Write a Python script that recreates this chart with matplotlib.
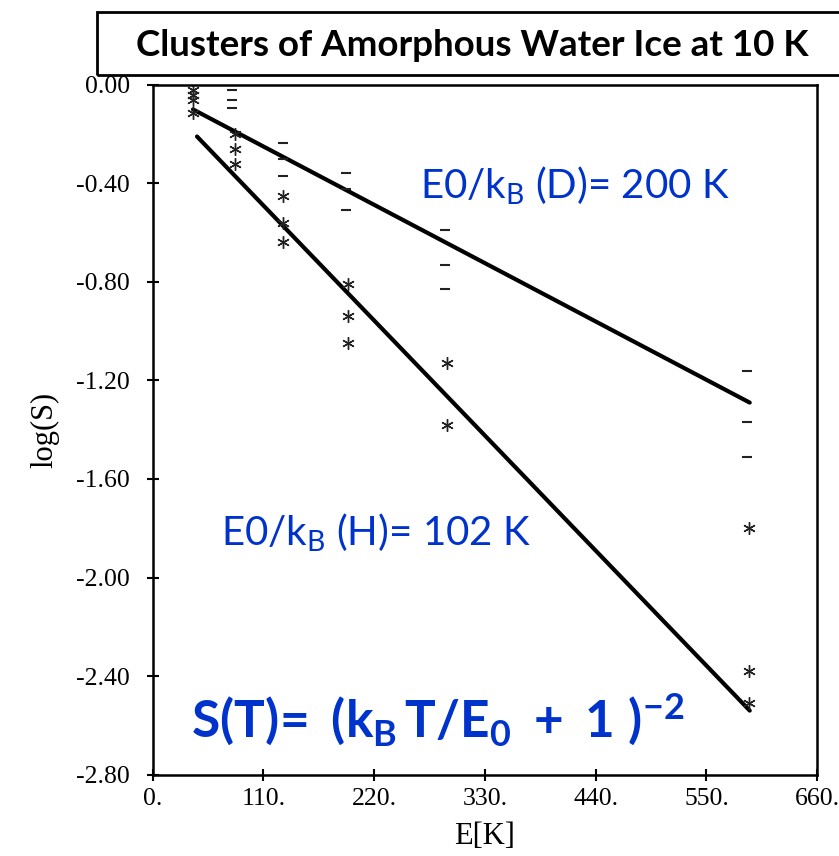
import matplotlib
matplotlib.use("Agg")
import matplotlib.pyplot as plt
from matplotlib.patches import Rectangle
from matplotlib.font_manager import FontProperties

# ---- data ----
E_dash = [79, 79, 79, 129, 129, 129, 192, 192, 192, 290, 290, 290, 590, 590, 590]
logS_dash = [-0.02, -0.06, -0.093, -0.235, -0.30, -0.37, -0.36, -0.425, -0.51,
             -0.59, -0.73, -0.83, -1.16, -1.37, -1.51]
E_star = [40, 40, 40, 40, 82, 82, 82, 129, 129, 129, 194, 194, 194, 292, 292, 592, 592, 592]
logS_star = [-0.02, -0.04, -0.06, -0.115, -0.20, -0.26, -0.32, -0.45, -0.56, -0.64,
             -0.81, -0.94, -1.05, -1.13, -1.38, -1.80, -2.38, -2.51]
E_fitD = [40, 593]
logS_fitD = [-0.10, -1.29]
E_fitH = [44, 593]
logS_fitH = [-0.21, -2.54]

xticks = [0, 110, 220, 330, 440, 550, 660]
xticklabels = ["0.", "110.", "220.", "330.", "440.", "550.", "660."]
yticks = [0.0, -0.4, -0.8, -1.2, -1.6, -2.0, -2.4, -2.8]
yticklabels = ["0.00", "-0.40", "-0.80", "-1.20", "-1.60", "-2.00", "-2.40", "-2.80"]

title = "Clusters of Amorphous Water Ice at 10 K"
labelD = r"E0/k$_\mathrm{B}$ (D)= 200 K"
labelH = r"E0/k$_\mathrm{B}$ (H)= 102 K"
formula = r"$\mathbf{S(T)\!=\ (k_B\,T/E_0\ +\ 1\ )^{-2}}$"

serif = "Liberation Serif"
plt.rcParams['mathtext.fontset'] = 'custom'
plt.rcParams['mathtext.rm'] = 'Lato'
plt.rcParams['mathtext.it'] = 'Lato:italic'
plt.rcParams['mathtext.bf'] = 'Lato:bold'

blue = "#0033cc"
tick_fp = FontProperties(family=serif, size=18.5)
lab_fp = FontProperties(family=serif, size=22)

fig = plt.figure(figsize=(8.39, 8.56), dpi=100)
ax = fig.add_axes([0.182, 0.095, 0.792, 0.806])

ax.plot(E_fitD, logS_fitD, color="black", lw=3.0, solid_capstyle="round")
ax.plot(E_fitH, logS_fitH, color="black", lw=3.0, solid_capstyle="round")
ax.plot(E_dash, logS_dash, linestyle="none", marker="_", markersize=7,
        markeredgewidth=1.5, color="#222222")
ax.plot(E_star, logS_star, linestyle="none", marker=(6, 2, 0), markersize=9,
        markeredgewidth=1.0, color="#222222")

ax.set_xlim(0, 660)
ax.set_ylim(-2.8, 0.0)
ax.set_xticks(xticks, xticklabels)
ax.set_yticks(yticks, yticklabels)
ax.tick_params(direction="inout", length=9, width=1.5)
ax.tick_params(axis="y", pad=12)
ax.tick_params(axis="x", pad=5)
for lbl in ax.get_xticklabels() + ax.get_yticklabels():
    lbl.set_fontproperties(tick_fp)
for s in ax.spines.values():
    s.set_linewidth(1.8)

ax.set_xlabel("E[K]", fontproperties=lab_fp, labelpad=9)
ax.set_ylabel("log(S)", fontproperties=lab_fp, labelpad=12)

ax.text(265, -0.41, labelD, color=blue, fontsize=29, fontfamily="Lato", va="center")
ax.text(68, -1.82, labelH, color=blue, fontsize=29, fontfamily="Lato", va="center")
ax.text(38, -2.58, formula, color=blue, fontsize=37, va="center")

# title box
fig.patches.append(Rectangle((97 / 839, 1 - 75 / 856), 760 / 839, 63 / 856,
                             transform=fig.transFigure, fill=False,
                             edgecolor="black", lw=2.0))
fig.text(472 / 839, 1 - 45 / 856, title, ha="center", va="center",
         fontfamily="Lato", fontweight="bold", fontsize=26.5)

fig.savefig("out.png", dpi=100)
